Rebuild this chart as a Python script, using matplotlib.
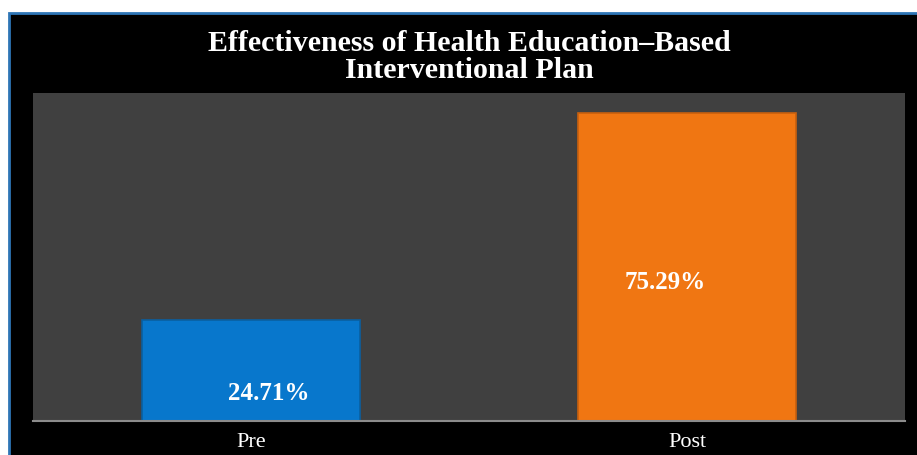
import matplotlib.pyplot as plt
from matplotlib.patches import Rectangle

categories = ["Pre", "Post"]
values = [24.71, 75.29]
labels = ["24.71%", "75.29%"]
colors = ["#0877CC", "#F07612"]
title = "Effectiveness of Health Education\u2013Based\nInterventional Plan"

W, H = 917, 456
fig = plt.figure(figsize=(W / 100, H / 100), dpi=100, facecolor="white")

# black panel with blue border
panel = Rectangle((9 / W, -0.01), 1.0, (H - 14) / H + 0.01, transform=fig.transFigure,
                  facecolor="black", edgecolor="#2E75B6", linewidth=2, zorder=-5)
fig.patches.append(panel)

ax = fig.add_axes([33 / W, (H - 422) / H, (905 - 33) / W, (422 - 94) / H])
ax.set_zorder(2)
ax.set_facecolor("#404040")
x = list(range(len(categories)))
bars = ax.bar(x, values, width=0.5, color=colors, edgecolor=["#0A5FA0", "#C8600E"], linewidth=1.2)
ax.set_xlim(-0.5, 1.5)
ax.set_ylim(0, 80.2)
ax.set_yticks([])
ax.set_xticks(x)
ax.set_xticklabels(categories, family="Liberation Serif", fontsize=16, color="white")
ax.tick_params(axis="x", length=0, pad=8)
for s in ["top", "left", "right"]:
    ax.spines[s].set_visible(False)
ax.spines["bottom"].set_color("#8C8C8C")
ax.spines["bottom"].set_linewidth(1.5)

label_pos = [(0.04, 7.0), (0.95, 34.2)]
for (lx, ly), t in zip(label_pos, labels):
    ax.text(lx, ly, t, ha="center", va="center", color="white",
            family="Liberation Serif", fontweight="bold", fontsize=18)

fig.text((33 + 905) / 2 / W, (H - 57) / H, title, ha="center", va="center",
         color="white", family="Liberation Serif", fontweight="bold", fontsize=21.5,
         linespacing=0.97)

fig.savefig("out.png", dpi=100, facecolor=fig.get_facecolor())
